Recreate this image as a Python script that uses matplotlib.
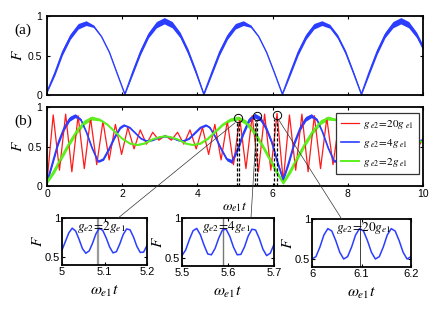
import numpy as np
import matplotlib
matplotlib.use("Agg")
import matplotlib.pyplot as plt
from matplotlib.patches import ConnectionPatch

# ---- panel (a): fidelity, band = fast oscillation envelope ----
a_x = [0.0, 0.21, 0.41, 0.62, 0.83, 1.04, 1.24, 1.45, 1.66, 1.86, 2.07,
       2.28, 2.49, 2.70, 2.91, 3.12, 3.33, 3.54, 3.75, 3.96, 4.17,
       4.38, 4.59, 4.80, 5.01, 5.22, 5.42, 5.63, 5.84, 6.05, 6.26,
       6.47, 6.68, 6.89, 7.10, 7.31, 7.52, 7.73, 7.94, 8.15, 8.36,
       8.57, 8.78, 8.99, 9.20, 9.41, 9.62, 9.83, 10.0]
a_mid = [0.04, 0.28, 0.54, 0.74, 0.87, 0.91, 0.87, 0.74, 0.54, 0.28, 0.01,
         0.29, 0.55, 0.76, 0.89, 0.94, 0.89, 0.76, 0.55, 0.29, 0.01,
         0.28, 0.54, 0.74, 0.87, 0.91, 0.87, 0.74, 0.54, 0.28, 0.01,
         0.28, 0.54, 0.74, 0.87, 0.91, 0.87, 0.74, 0.54, 0.28, 0.01,
         0.29, 0.55, 0.76, 0.89, 0.94, 0.89, 0.76, 0.60]
a_w = [0.01, 0.03, 0.035, 0.035, 0.035, 0.03, 0.015, 0.005, 0.005, 0.005, 0.005,
       0.03, 0.035, 0.035, 0.04, 0.04, 0.04, 0.035, 0.035, 0.03, 0.01,
       0.03, 0.035, 0.035, 0.035, 0.03, 0.015, 0.005, 0.005, 0.005, 0.005,
       0.03, 0.035, 0.035, 0.035, 0.03, 0.025, 0.025, 0.025, 0.02, 0.01,
       0.03, 0.035, 0.035, 0.04, 0.04, 0.04, 0.035, 0.035]

# ---- panel (b) ----
# g_e2 = 20 g_e1 (red), peaks and troughs
r_x = [0.0, 0.165, 0.331, 0.496, 0.661, 0.827, 0.992, 1.158, 1.323, 1.488,
       1.653, 1.819, 1.984, 2.150, 2.315, 2.480, 2.646, 2.811, 2.976, 3.142,
       3.307, 3.472, 3.638, 3.803, 3.968, 4.134, 4.299, 4.464, 4.630, 4.795,
       4.960, 5.126, 5.291, 5.457, 5.622, 5.787, 5.953, 6.118, 6.283,
       6.448, 6.614, 6.779, 6.944, 7.110, 7.275, 7.441, 7.606, 7.771, 7.937,
       8.102, 8.267, 8.433, 8.598, 8.763, 8.929, 9.094, 9.259, 9.425, 9.590,
       9.756, 9.921, 10.0]
r_f = [0.05, 0.90, 0.20, 0.91, 0.18, 0.89, 0.22, 0.86, 0.27, 0.82,
       0.33, 0.78, 0.40, 0.74, 0.47, 0.71, 0.53, 0.68, 0.58, 0.64,
       0.58, 0.68, 0.53, 0.71, 0.47, 0.74, 0.40, 0.78, 0.33, 0.82,
       0.27, 0.86, 0.22, 0.89, 0.18, 0.91, 0.20, 0.92, 0.06,
       0.90, 0.20, 0.91, 0.18, 0.89, 0.22, 0.86, 0.27, 0.82, 0.33,
       0.78, 0.40, 0.74, 0.47, 0.71, 0.53, 0.68, 0.58, 0.64, 0.58,
       0.68, 0.53, 0.60]

# g_e2 = 4 g_e1 (blue)
b_x = [0.0, 0.15, 0.3, 0.45, 0.6, 0.75, 0.9, 1.05, 1.2, 1.36, 1.5, 1.65, 1.8, 1.95, 2.05,
       2.2, 2.35, 2.5, 2.65, 2.8, 2.95, 3.14,
       3.33, 3.48, 3.63, 3.78, 3.93, 4.08, 4.23, 4.33, 4.48, 4.63, 4.78, 4.92, 5.08,
       5.23, 5.38, 5.53, 5.68, 5.83, 5.98, 6.13, 6.28,
       6.43, 6.58, 6.73, 6.88, 7.03, 7.18, 7.33, 7.48, 7.64, 7.78, 7.93, 8.08, 8.23,
       8.33, 8.48, 8.63, 8.78, 8.93, 9.08, 9.23, 9.42, 9.57, 9.72, 9.87, 10.0]
b_f = [0.05, 0.30, 0.55, 0.73, 0.85, 0.89, 0.84, 0.68, 0.48, 0.31, 0.34, 0.47, 0.62, 0.74, 0.77,
       0.74, 0.67, 0.60, 0.57, 0.58, 0.61, 0.63,
       0.61, 0.58, 0.57, 0.60, 0.67, 0.74, 0.77, 0.74, 0.62, 0.47, 0.34, 0.31, 0.48,
       0.68, 0.84, 0.89, 0.85, 0.73, 0.55, 0.30, 0.08,
       0.30, 0.55, 0.73, 0.85, 0.89, 0.84, 0.68, 0.48, 0.31, 0.34, 0.47, 0.62, 0.74,
       0.77, 0.74, 0.67, 0.60, 0.57, 0.58, 0.61, 0.63, 0.61, 0.58, 0.57, 0.58]
b_w = [0.02, 0.03, 0.03, 0.03, 0.03, 0.025, 0.015, 0.01, 0.01, 0.012, 0.015, 0.018, 0.018, 0.015, 0.012,
       0.01, 0.008, 0.008, 0.008, 0.008, 0.008, 0.008,
       0.008, 0.008, 0.008, 0.008, 0.01, 0.012, 0.012, 0.012, 0.015, 0.018, 0.02, 0.025, 0.03,
       0.03, 0.03, 0.03, 0.03, 0.03, 0.03, 0.03, 0.02,
       0.03, 0.03, 0.03, 0.03, 0.025, 0.015, 0.01, 0.01, 0.012, 0.015, 0.018, 0.018, 0.015,
       0.012, 0.01, 0.008, 0.008, 0.008, 0.008, 0.008, 0.008, 0.008, 0.008, 0.008, 0.008]

# g_e2 = 2 g_e1 (green)
g_x = [0.0, 0.2, 0.4, 0.6, 0.8, 1.0, 1.2, 1.4, 1.6, 1.8, 2.0, 2.2, 2.4, 2.6, 2.8, 3.0, 3.14,
       3.28, 3.48, 3.68, 3.88, 4.08, 4.28, 4.48, 4.68, 4.88, 5.08, 5.28, 5.48, 5.68, 5.88, 6.08, 6.28,
       6.48, 6.68, 6.88, 7.08, 7.28, 7.48, 7.68, 7.88, 8.08, 8.28, 8.48, 8.68, 8.88, 9.08, 9.28,
       9.42, 9.62, 9.82, 10.0]
g_f = [0.05, 0.20, 0.38, 0.55, 0.70, 0.81, 0.86, 0.84, 0.78, 0.69, 0.60, 0.54, 0.52, 0.54, 0.59, 0.62, 0.63,
       0.62, 0.59, 0.54, 0.52, 0.54, 0.60, 0.69, 0.78, 0.84, 0.86, 0.81, 0.70, 0.55, 0.38, 0.20, 0.04,
       0.20, 0.38, 0.55, 0.70, 0.81, 0.86, 0.84, 0.78, 0.69, 0.60, 0.54, 0.52, 0.54, 0.59, 0.62,
       0.63, 0.62, 0.59, 0.55]
g_w = [0.02, 0.035, 0.035, 0.035, 0.035, 0.03, 0.025, 0.015, 0.01, 0.01, 0.01, 0.01, 0.008, 0.008, 0.008, 0.008, 0.008,
       0.008, 0.008, 0.008, 0.008, 0.01, 0.01, 0.012, 0.015, 0.02, 0.025, 0.03, 0.035, 0.035, 0.035, 0.035, 0.02,
       0.035, 0.035, 0.035, 0.035, 0.03, 0.025, 0.015, 0.01, 0.01, 0.01, 0.01, 0.008, 0.008, 0.008, 0.008,
       0.008, 0.008, 0.008, 0.008]

labels = [r"$g_{\ e2}\!=\!20g_{\ e1}$", r"$g_{\ e2}\!=\!4g_{\ e1}$", r"$g_{\ e2}\!=\!2g_{\ e1}$"]
inset_labels = [r"$g_{e2}\!=\!2g_{e1}$", r"$g_{e2}\!=\!4g_{e1}$", r"$g_{e2}\!=\!20g_{e1}$"]

# marked points (circles) and the zoomed windows
circ_x = [5.08, 5.59, 6.11]
circ_f = [0.86, 0.885, 0.90]
dash_pairs = [(5.05, 5.11), (5.52, 5.59), (6.04, 6.11)]
ins_xlim = [(5.0, 5.2), (5.5, 5.7), (6.0, 6.2)]
ins_xticks = [[5, 5.1, 5.2], [5.5, 5.6, 5.7], [6, 6.1, 6.2]]
ins_mark = [5.085, 5.589, 6.096]

ins_f = [
    [0.59, 0.70, 0.81, 0.87, 0.835, 0.73, 0.61, 0.55, 0.58, 0.68, 0.80, 0.87, 0.84,
     0.745, 0.63, 0.555, 0.57, 0.67, 0.79, 0.86, 0.85, 0.76, 0.64, 0.56, 0.565, 0.65],
    [0.53, 0.60, 0.73, 0.84, 0.87, 0.79, 0.66, 0.55, 0.54, 0.62, 0.75, 0.85, 0.86,
     0.77, 0.635, 0.54, 0.545, 0.64, 0.775, 0.86, 0.85, 0.745, 0.61, 0.53, 0.56, 0.67],
    [0.50, 0.53, 0.65, 0.80, 0.88, 0.85, 0.73, 0.585, 0.50, 0.53, 0.65, 0.80, 0.88,
     0.85, 0.73, 0.585, 0.50, 0.53, 0.65, 0.80, 0.88, 0.85, 0.73, 0.585, 0.50, 0.53],
]

RED = "#ff1a1a"
BLUE = "#2b3dff"
GREEN = "#5cf01e"

plt.rcParams["font.family"] = ["Liberation Sans", "DejaVu Sans"]
plt.rcParams["mathtext.fontset"] = "stix"
plt.rcParams["xtick.direction"] = "in"
plt.rcParams["ytick.direction"] = "in"
plt.rcParams["xtick.top"] = True
plt.rcParams["ytick.right"] = True
plt.rcParams["xtick.major.size"] = 2.5
plt.rcParams["ytick.major.size"] = 2.5
plt.rcParams["axes.linewidth"] = 1.3

fig = plt.figure(figsize=(4.36, 3.17), dpi=100)
axa = fig.add_axes([0.1078, 0.7003, 0.8624, 0.2492])
axb = fig.add_axes([0.1078, 0.4132, 0.8624, 0.2492])

# (a)
a_mid = np.array(a_mid)
a_w = np.array(a_w)
axa.fill_between(a_x, np.clip(a_mid - a_w, 0, 1), a_mid + a_w, color=BLUE, lw=0)
axa.plot(a_x, a_mid, color=BLUE, lw=1)
axa.set_xlim(0, 10)
axa.set_ylim(0, 1)
axa.set_xticks([0, 2, 4, 6, 8, 10])
axa.set_xticklabels([])
axa.set_yticks([0, 0.5, 1])
axa.set_yticklabels(["0", "0.5", "1"], fontsize=7.5)
axa.set_ylabel("$F$", fontsize=11, labelpad=2)
fig.text(0.053, 0.905, "(a)", family="Liberation Serif", fontsize=11, ha="center", va="center")

# (b)
axb.plot(r_x, r_f, color=RED, lw=0.9, label=labels[0])
for xs, fs, ws, col, lw, lab in [(b_x, b_f, b_w, BLUE, 1.2, labels[1]),
                                 (g_x, g_f, g_w, GREEN, 1.4, labels[2])]:
    fs = np.array(fs)
    ws = np.array(ws)
    axb.fill_between(xs, np.clip(fs - ws, 0, 1), fs + ws, color=col, lw=0)
    axb.plot(xs, fs, color=col, lw=lw, label=lab)

for (d1, d2), cf in zip(dash_pairs, circ_f):
    for d in (d1, d2):
        axb.plot([d, d], [0, cf - 0.05], color="k", lw=0.9, dashes=(2.5, 1.5))
axb.plot(circ_x, circ_f, "o", ms=6, mfc="none", mec="k", mew=0.7)

axb.set_xlim(0, 10)
axb.set_ylim(0, 1)
axb.set_xticks([0, 2, 4, 6, 8, 10])
axb.set_xticklabels(["0", "2", "4", "6", "8", "10"], fontsize=7.5)
axb.tick_params(axis="x", pad=2)
axb.set_yticks([0, 0.5, 1])
axb.set_yticklabels(["0", "0.5", "1"], fontsize=7.5)
axb.set_ylabel("$F$", fontsize=11, labelpad=2)
axb.set_xlabel(r"$\omega_{e1}t$", fontsize=10, labelpad=1)
fig.text(0.053, 0.618, "(b)", family="Liberation Serif", fontsize=11, ha="center", va="center")

leg = axb.legend(loc="upper left", bbox_to_anchor=(0.769, 0.93), fontsize=8,
                 frameon=True, fancybox=False, framealpha=1, edgecolor="#333333",
                 handlelength=1.6, labelspacing=0.55, borderpad=0.45, handletextpad=0.4,
                 borderaxespad=0)
leg.get_frame().set_linewidth(0.9)

# insets
ins_rects = [[0.1422, 0.1640, 0.1950, 0.1483],
             [0.4174, 0.1609, 0.2110, 0.1514],
             [0.7156, 0.1577, 0.2271, 0.1514]]
anchor_frac = [0.66, 0.75, 0.30]
start_pts = [(5.0, 0.80), (5.58, 0.82), (6.16, 0.84)]
mark_colors = [("#999999", 1.6), ("#777777", 1.0), ("#222222", 0.6)]

for i in range(3):
    ax = fig.add_axes(ins_rects[i])
    xs = np.linspace(ins_xlim[i][0], ins_xlim[i][1], len(ins_f[i]))
    ax.axvline(ins_mark[i], color=mark_colors[i][0], lw=mark_colors[i][1])
    ax.plot(xs, ins_f[i], color=BLUE, lw=1.1)
    ax.set_xlim(*ins_xlim[i])
    ax.set_ylim(0.4, 1)
    ax.set_xticks(ins_xticks[i])
    ax.set_xticklabels([str(t) for t in ins_xticks[i]], fontsize=8)
    ax.set_yticks([0.5, 1])
    ax.set_yticklabels(["0.5", "1"], fontsize=8)
    ax.tick_params(pad=1.5)
    ax.set_xlabel(r"$\omega_{e1}t$", fontsize=11.5, labelpad=5)
    ax.set_ylabel("$F$", fontsize=11, labelpad=0)
    ax.text(ins_mark[i] + 0.008, 0.885, inset_labels[i], fontsize=9.5, ha="center", va="center")
    con = ConnectionPatch(xyA=start_pts[i], coordsA=axb.transData,
                          xyB=(anchor_frac[i], 1.0), coordsB=ax.transAxes,
                          color="#333333", lw=0.5)
    fig.add_artist(con)

fig.savefig("out.png", dpi=100)
